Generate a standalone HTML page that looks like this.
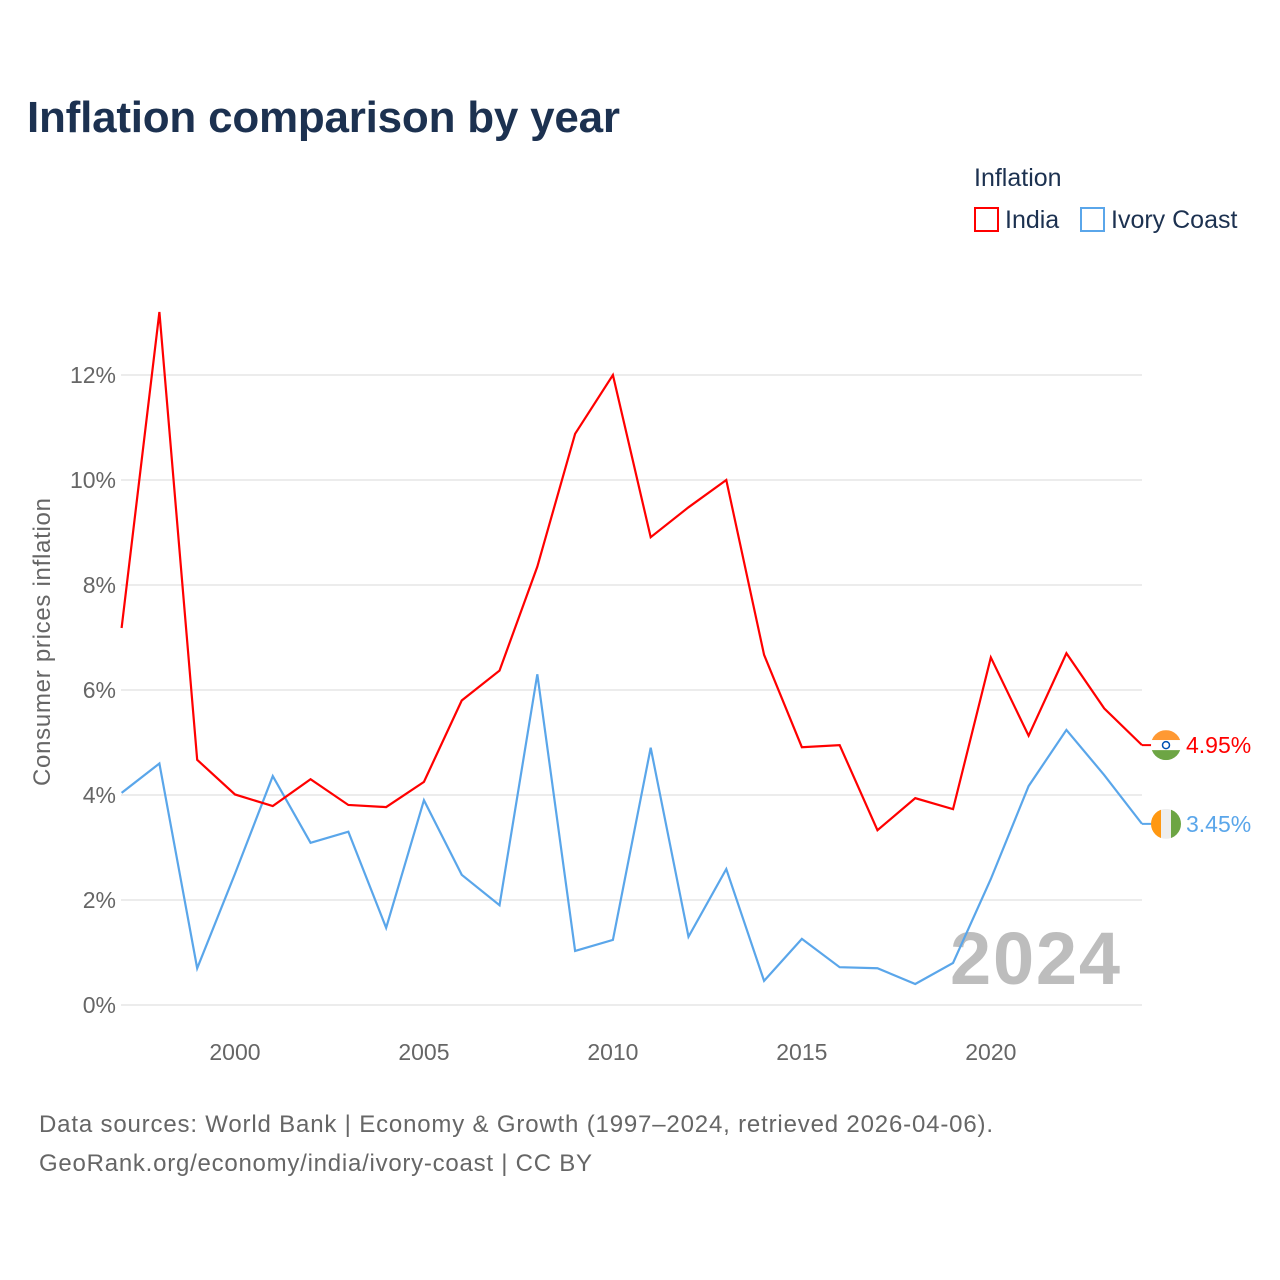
<!DOCTYPE html>
<html><head><meta charset="utf-8">
<style>
body{margin:0;background:#fff;font-family:"Liberation Sans",sans-serif;}
#wrap{position:relative;width:1280px;height:1280px;overflow:hidden;}
</style></head>
<body>
<div id="wrap">
<svg id="chart" width="1280" height="1280">
<text x="27" y="132" font-size="44" font-weight="bold" fill="#1c3150" textLength="593">Inflation comparison by year</text>
<text x="974" y="186" font-size="25" fill="#1c3150">Inflation</text>
<g>
<rect x="975" y="208" width="23" height="23" fill="none" stroke="#ff0000" stroke-width="2"/>
<text x="1005" y="228" font-size="25" fill="#1c3150">India</text></g>
<g>
<rect x="1081" y="208" width="23" height="23" fill="none" stroke="#5aa6ea" stroke-width="2"/>
<text x="1111" y="228" font-size="25" fill="#1c3150">Ivory Coast</text></g>
<text transform="translate(50,642) rotate(-90)" text-anchor="middle" font-size="24" fill="#666" textLength="288">Consumer prices inflation</text>
<g id="grid"></g><g id="yticks"></g><g id="xticks"></g>
<text x="1120" y="984" text-anchor="end" font-size="74" font-weight="bold" fill="#bdbdbd" textLength="170">2024</text>
<g id="lines"></g><g id="ends"></g>
<text x="39" y="1132" font-size="24" fill="#666" textLength="954">Data sources: World Bank | Economy &amp; Growth (1997–2024, retrieved 2026-04-06).</text>
<text x="39" y="1171" font-size="24" fill="#666" textLength="553">GeoRank.org/economy/india/ivory-coast | CC BY</text>
</svg>
</div>
<script>
const years=[1997,1998,1999,2000,2001,2002,2003,2004,2005,2006,2007,2008,2009,2010,2011,2012,2013,2014,2015,2016,2017,2018,2019,2020,2021,2022,2023,2024];
const india=[7.18,13.2,4.67,4.01,3.79,4.30,3.81,3.77,4.25,5.80,6.37,8.35,10.88,12.0,8.91,9.48,10.0,6.67,4.91,4.95,3.33,3.94,3.73,6.62,5.13,6.70,5.65,4.95];
const ivory=[4.04,4.6,0.7,2.5,4.36,3.09,3.30,1.47,3.90,2.48,1.90,6.30,1.03,1.24,4.90,1.30,2.59,0.46,1.26,0.72,0.70,0.40,0.80,2.40,4.17,5.24,4.38,3.45];
const yTicks=[0,2,4,6,8,10,12];
const xTicks=[2000,2005,2010,2015,2020];
const NS="http://www.w3.org/2000/svg";
const xS=y=>121.6+(y-1997)*(1142-121.6)/27;
const yS=v=>1005-v*52.5;
function mk(tag,attrs,parent){const e=document.createElementNS(NS,tag);for(const k in attrs)e.setAttribute(k,attrs[k]);parent.appendChild(e);return e;}
const grid=document.getElementById('grid'),yt=document.getElementById('yticks'),xt=document.getElementById('xticks');
yTicks.forEach(v=>{
 const l=mk('line',{x1:121,x2:1142,y1:yS(v),y2:yS(v),stroke:'#e6e6e6','stroke-width':1.5},grid);
 
 
 const t=mk('text',{x:116,y:yS(v)+8,'text-anchor':'end','font-size':23,fill:'#666'},yt);
 t.textContent=v+'%';
 
 
});
xTicks.forEach(v=>{
 const t=mk('text',{x:xS(v),y:1060,'text-anchor':'middle','font-size':23,fill:'#666'},xt);
 t.textContent=v;
 
 
});
const lines=document.getElementById('lines');
function line(data,color,name){
 const p=mk('polyline',{points:data.map((v,i)=>xS(years[i])+','+yS(v)).join(' '),fill:'none',stroke:color,'stroke-width':2.2,'stroke-linejoin':'miter'},lines);
 
 
}
line(ivory,'#5aa6ea','ivory-coast-line');
line(india,'#ff0000','india-line');
const ends=document.getElementById('ends');
function endLabel(v,color,name,flag){
 const y=yS(v),cx=1166;
 mk('line',{x1:1142,x2:1152,y1:y,y2:y,stroke:color,'stroke-width':2},ends);
 const g=mk('g',{},ends);
 
 
 const cp=mk('clipPath',{id:'c'+name},g);mk('circle',{cx:cx,cy:y,r:15},cp);
 const gg=mk('g',{'clip-path':'url(#c'+name+')'},g);
 if(flag==='in'){
  mk('rect',{x:cx-15,y:y-15,width:30,height:10,fill:'#ff9933'},gg);
  mk('rect',{x:cx-15,y:y-5,width:30,height:10,fill:'#fff'},gg);
  mk('rect',{x:cx-15,y:y+5,width:30,height:10,fill:'#6da544'},gg);
  mk('circle',{cx:cx,cy:y,r:3.5,fill:'none',stroke:'#0052b4','stroke-width':1.5},gg);
 }else{
  mk('rect',{x:cx-15,y:y-15,width:10,height:30,fill:'#ff9811'},gg);
  mk('rect',{x:cx-5,y:y-15,width:10,height:30,fill:'#eee'},gg);
  mk('rect',{x:cx+5,y:y-15,width:10,height:30,fill:'#6da544'},gg);
 }
 const t=mk('text',{x:1186,y:y+8,'font-size':23,fill:color},ends);
 t.textContent=v.toFixed(2)+'%';
 
 
}
endLabel(india[india.length-1],'#ff0000','india','in');
endLabel(ivory[ivory.length-1],'#5aa6ea','ivory-coast','ci');
</script>
</body></html>
